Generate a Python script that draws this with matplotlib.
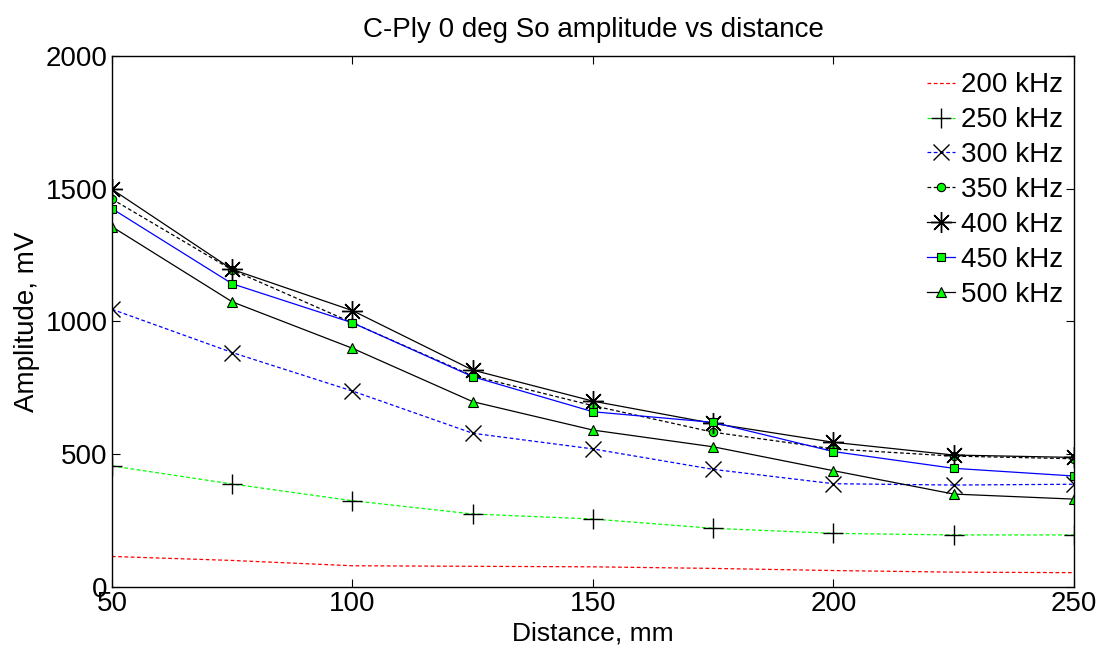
import matplotlib
matplotlib.use("Agg")
import matplotlib.pyplot as plt

plt.rcParams['font.family'] = ['Liberation Sans', 'DejaVu Sans']

distance = [50, 75, 100, 125, 150, 175, 200, 225, 250]
amp_200 = [115, 100, 80, 78, 76, 70, 62, 56, 54]
amp_250 = [456, 388, 325, 275, 256, 221, 202, 196, 196]
amp_300 = [1046, 883, 738, 579, 520, 443, 389, 384, 387]
amp_350 = [1461, 1194, 995, 795, 683, 583, 520, 493, 483]
amp_400 = [1498, 1196, 1041, 817, 700, 616, 545, 497, 488]
amp_450 = [1425, 1142, 995, 792, 660, 620, 510, 447, 418]
amp_500 = [1357, 1074, 899, 698, 591, 528, 438, 350, 331]
labels = ['200 kHz', '250 kHz', '300 kHz', '350 kHz', '400 kHz', '450 kHz', '500 kHz']

fig = plt.figure(figsize=(11.02, 6.6), dpi=100)
ax = fig.add_axes([0.1016, 0.1106, 0.8730, 0.8046])

lw = 0.9
g = '#00ff00'
ax.plot(distance, amp_200, color='red', ls='--', lw=lw, label=labels[0], dashes=(3, 2))
ax.plot(distance, amp_250, color=g, ls='--', lw=lw, marker='+', ms=15, mec='black', mew=1.0,
        label=labels[1], dashes=(3, 2))
ax.plot(distance, amp_300, color='blue', ls='--', lw=lw, marker='x', ms=11, mec='black', mew=1.0,
        label=labels[2], dashes=(3, 2))
ax.plot(distance, amp_350, color='black', ls='--', lw=lw, marker='o', ms=6, mec='black', mfc=g,
        mew=0.8, label=labels[3], dashes=(3, 2))
ax.plot(distance, amp_400, color='black', ls='-', lw=lw, marker=(8, 2, 0), ms=15, mec='black',
        mew=1.0, label=labels[4])
ax.plot(distance, amp_450, color='blue', ls='-', lw=lw, marker='s', ms=6, mec='black', mfc=g,
        mew=0.8, label=labels[5])
ax.plot(distance, amp_500, color='black', ls='-', lw=lw, marker='^', ms=7, mec='black', mfc=g,
        mew=0.8, label=labels[6])

ax.set_xlim(50, 250)
ax.set_ylim(0, 2000)
ax.set_xticks([50, 100, 150, 200, 250])
ax.set_yticks([0, 500, 1000, 1500, 2000])
ax.tick_params(direction='in', top=True, right=True, labelsize=20, length=6, width=0.8, pad=3)
for s in ax.spines.values():
    s.set_linewidth(1.0)

ax.set_xlabel('Distance, mm', fontsize=19, labelpad=3)
ax.set_ylabel('Amplitude, mV', fontsize=20, labelpad=4)
ax.set_title('C-Ply 0 deg So amplitude vs distance', fontsize=20, pad=14)

leg = ax.legend(loc='upper right', bbox_to_anchor=(1.0, 0.99), fontsize=20, frameon=False,
                handlelength=1.0, handletextpad=0.2, labelspacing=0.32, borderaxespad=0.0,
                borderpad=0.4)

fig.savefig('out.png', dpi=100)
